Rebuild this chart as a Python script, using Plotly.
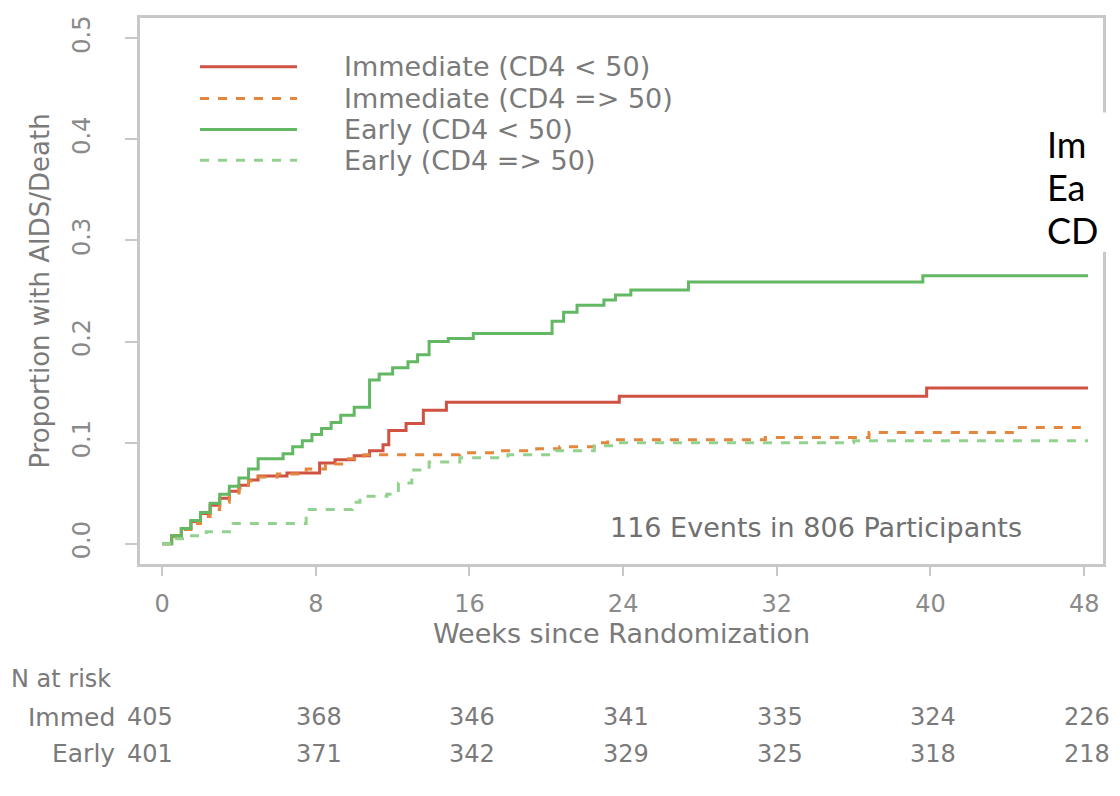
import plotly.graph_objects as go

# ---------------- data ----------------
weeks_ticks = [0, 8, 16, 24, 32, 40, 48]
y_ticks = [0.0, 0.1, 0.2, 0.3, 0.4, 0.5]
y_tick_labels = ["0.0", "0.1", "0.2", "0.3", "0.4", "0.5"]

immed_lt50_t = [0, 0.5, 1.0, 1.5, 2.0, 2.5, 3.0, 3.5, 4.0, 4.5, 5.0, 6.5, 8.2, 9.0, 10.0, 10.8,
                11.5, 11.8, 12.7, 13.6, 14.8, 23.8, 39.8, 48.2]
immed_lt50_v = [0, 0.008, 0.015, 0.022, 0.03, 0.038, 0.045, 0.052, 0.058, 0.063, 0.067, 0.07,
                0.08, 0.083, 0.087, 0.092, 0.098, 0.112, 0.119, 0.132, 0.14, 0.146, 0.154, 0.154]

immed_ge50_t = [0, 0.5, 1.0, 1.5, 2.0, 2.5, 3.0, 3.5, 4.0, 4.5, 5.0, 6.0, 7.5, 8.5, 9.5, 10.5,
                15.5, 17.5, 19.5, 20.7, 22.5, 23.2, 31.4, 36.8, 44.4, 48.2]
immed_ge50_v = [0, 0.007, 0.014, 0.02, 0.027, 0.034, 0.041, 0.048, 0.055, 0.062, 0.066, 0.069,
                0.074, 0.079, 0.084, 0.088, 0.09, 0.092, 0.094, 0.096, 0.1, 0.103, 0.105, 0.11,
                0.115, 0.115]

early_lt50_t = [0, 0.5, 1.0, 1.5, 2.0, 2.5, 3.0, 3.5, 4.0, 4.5, 5.0, 6.3, 6.8, 7.3, 7.8, 8.3,
                8.8, 9.3, 10.0, 10.8, 11.3, 12.0, 12.8, 13.3, 13.9, 14.9, 16.2, 20.3, 20.9, 21.6,
                23.0, 23.6, 24.4, 27.4, 39.6, 48.2]
early_lt50_v = [0, 0.008, 0.015, 0.023, 0.031, 0.04, 0.049, 0.057, 0.065, 0.074, 0.084, 0.089,
                0.096, 0.102, 0.108, 0.114, 0.12, 0.127, 0.135, 0.162, 0.168, 0.174, 0.18, 0.187,
                0.2, 0.203, 0.208, 0.22, 0.229, 0.236, 0.241, 0.246, 0.251, 0.259, 0.265, 0.265]

early_ge50_t = [0, 0.5, 1.2, 2.3, 3.7, 7.0, 7.5, 9.9, 10.3, 11.7, 12.3, 13.0, 13.9, 15.5, 18.0,
                20.5, 22.5, 23.5, 36.0, 48.2]
early_ge50_v = [0, 0.005, 0.008, 0.012, 0.02, 0.02, 0.034, 0.041, 0.047, 0.049, 0.06, 0.073,
                0.081, 0.085, 0.088, 0.092, 0.097, 0.1, 0.102, 0.102]

series_names = ["Immediate (CD4 < 50)", "Immediate (CD4 => 50)", "Early (CD4 < 50)",
                "Early (CD4 => 50)"]

risk_weeks = [0, 8, 16, 24, 32, 40, 48]
risk_immed = [405, 368, 346, 341, 335, 324, 226]
risk_early = [401, 371, 342, 329, 325, 318, 218]

events_note = "116 Events in 806 Participants"
overlay_lines = ["Im", "Ea", "CD"]

# ---------------- styling ----------------
FONT = "DejaVu Sans"
TXT = "#7a7a7a"
colors = ["#cf5243", "#e3873f", "#63b863", "#93d28e"]
dashes = ["solid", "dash", "solid", "dash"]

series = [(immed_lt50_t, immed_lt50_v), (immed_ge50_t, immed_ge50_v),
          (early_lt50_t, early_lt50_v), (early_ge50_t, early_ge50_v)]

fig = go.Figure()
for (t, v), name, c, d in zip(series, series_names, colors, dashes):
    fig.add_trace(go.Scatter(x=t, y=v, mode="lines", name=name, line_shape="hv",
                             line=dict(color=c, width=3, dash=d), showlegend=False))

# page has an 8px body margin; the figure is sized so it fills the 1120x796 window
OFF = 8
W, H = 1120 - OFF, 796 - 2 * OFF
PL, PT, PR, PB = 140, 15, 1103, 564          # plot box in page pixels
L, T = PL - OFF, PT - OFF
R, B = W - (PR - OFF), H - (PB - OFF)
pw, ph = W - L - R, H - T - B


def px2x(px):
    return (px - OFF - L) / pw


def py2y(py):
    return (H - B - (py - OFF)) / ph


shapes = []
annotations = []

# legend drawn inside the plot (top-left)
leg_rows = [64, 96, 127, 158]
for name, c, d, py in zip(series_names, colors, dashes, leg_rows):
    shapes.append(dict(type="line", xref="paper", yref="paper", x0=px2x(200), x1=px2x(297),
                       y0=py2y(py), y1=py2y(py), line=dict(color=c, width=3, dash=d)))
    annotations.append(dict(xref="paper", yref="paper", x=px2x(342), y=py2y(py), text=name,
                            showarrow=False, xanchor="left", yanchor="middle",
                            font=dict(family=FONT, size=27, color=TXT)))

annotations.append(dict(xref="paper", yref="paper", x=px2x(816), y=py2y(527), text=events_note,
                        showarrow=False, xanchor="center", yanchor="middle",
                        font=dict(family=FONT, size=27, color="#707070")))

# number at risk table
annotations.append(dict(xref="paper", yref="paper", x=px2x(9), y=py2y(680), text="N at risk",
                        showarrow=False, xanchor="left", yanchor="middle",
                        font=dict(family=FONT, size=24, color=TXT)))
for label, vals, py in (("Immed", risk_immed, 718), ("Early", risk_early, 755)):
    annotations.append(dict(xref="paper", yref="paper", x=px2x(117), y=py2y(py), text=label,
                            showarrow=False, xanchor="right", yanchor="middle",
                            font=dict(family=FONT, size=25, color=TXT)))
    for i, (wk, n) in enumerate(zip(risk_weeks, vals)):
        annotations.append(dict(xref="x", yref="paper", x=wk, y=py2y(py), text=str(n),
                                showarrow=False, xanchor="center", yanchor="middle",
                                xshift=(-12 if i == 0 else 3),
                                font=dict(family=FONT, size=24, color=TXT)))

# overlay slide text at right edge
shapes.append(dict(type="rect", xref="paper", yref="paper", x0=px2x(1092), x1=px2x(1125),
                   y0=py2y(250), y1=py2y(110), fillcolor="white", line=dict(width=0),
                   layer="above"))
for txt, py in zip(overlay_lines, [142, 185, 228]):
    annotations.append(dict(xref="paper", yref="paper", x=px2x(1045), y=py2y(py), text=txt,
                            showarrow=False, xanchor="left", yanchor="middle",
                            font=dict(family="Lato", size=36, color="black")))

fig.update_layout(
    width=W, height=H,
    margin=dict(l=L, r=R, t=T, b=B, pad=0),
    paper_bgcolor="white", plot_bgcolor="white",
    shapes=shapes, annotations=annotations,
    font=dict(family=FONT, color=TXT),
    xaxis=dict(range=[-1.15, 48.98], tickvals=weeks_ticks, ticks="outside", ticklen=9,
               tickwidth=2, tickcolor="#c8c8c8", showline=True, linecolor="#c8c8c8",
               linewidth=3, mirror=True, showgrid=False, zeroline=False,
               tickfont=dict(family=FONT, size=24, color="#8a8a8a"), ticklabelstandoff=7,
               title=dict(text="Weeks since Randomization", standoff=5,
                          font=dict(family=FONT, size=27, color=TXT))),
    yaxis=dict(range=[-0.02, 0.52], tickvals=y_ticks, ticktext=y_tick_labels, tickangle=-90,
               ticks="outside", ticklen=12, tickwidth=2, tickcolor="#c8c8c8", showline=True,
               linecolor="#c8c8c8", linewidth=3, mirror=True, showgrid=False, zeroline=False,
               tickfont=dict(family=FONT, size=24, color="#8a8a8a"), ticklabelstandoff=25,
               title=dict(text="Proportion with AIDS/Death", standoff=12,
                          font=dict(family=FONT, size=26, color=TXT))),
)

fig.write_html("out.html")
